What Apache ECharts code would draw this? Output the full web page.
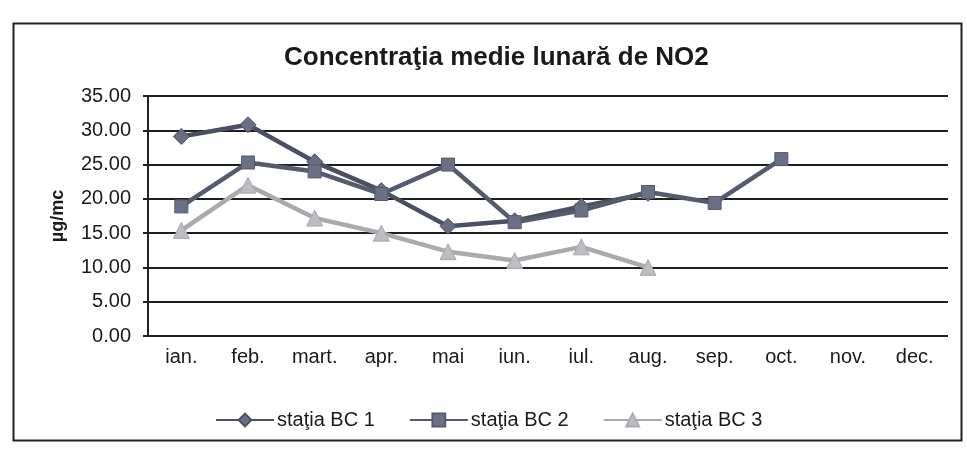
<!DOCTYPE html>
<html>
<head>
<meta charset="utf-8">
<script src="https://cdn.jsdelivr.net/npm/echarts@6/dist/echarts.min.js"></script>
<style>
html,body{margin:0;padding:0;background:#fff;}
#c{width:967px;height:452px;}
</style>
</head>
<body>
<div id="c"></div>
<script>
const titleText = 'Concentraţia medie lunară de NO2';
const yAxisName = 'µg/mc';
const months = ['ian.','feb.','mart.','apr.','mai','iun.','iul.','aug.','sep.','oct.','nov.','dec.'];
const seriesNames = ['staţia BC 1','staţia BC 2','staţia BC 3'];
const bc1 = [29.1, 30.8, 25.4, 21.2, 16.0, 16.8, 18.9, 20.8, null, null, null, null];
const bc2 = [18.9, 25.3, 24.0, 20.7, 25.0, 16.6, 18.3, 21.0, 19.4, 25.8, null, null];
const bc3 = [15.4, 22.0, 17.2, 15.0, 12.3, 11.0, 13.0, 10.0, null, null, null, null];
const yTicks = {min: 0, max: 35, interval: 5};

const chart = echarts.init(document.getElementById('c'));
const font = 'Liberation Sans, Arial, sans-serif';
function mk(name, data, color, mfill, symbol, size){
  return {
    name, type:'line', data, symbol, symbolSize:size,
    connectNulls:false,
    lineStyle:{color, width:4.5},
    itemStyle:{color:mfill, borderColor:color, borderWidth:1},
    emphasis:{disabled:true}
  };
}
chart.setOption({
  animation:false,
  backgroundColor:'#fff',
  graphic:[{
    type:'rect', left:11, top:21, shape:{width:948, height:417},
    style:{fill:'none', stroke:'#222', lineWidth:2}, silent:true
  }],
  title:{
    text:titleText, left:279, top:40,
    textStyle:{fontFamily:font, fontSize:26, fontWeight:'bold', color:'#1a1a1a'}
  },
  legend:{
    left:210, top:405, itemWidth:58, itemHeight:16, itemGap:34,
    textStyle:{fontFamily:font, fontSize:20, color:'#1a1a1a', padding:[0,0,0,-2]},
    data:seriesNames
  },
  grid:{left:148, right:19, top:96, bottom:116, containLabel:false},
  xAxis:{
    type:'category', data:months, boundaryGap:true,
    axisLine:{show:false}, axisTick:{show:false},
    axisLabel:{fontFamily:font, fontSize:20, color:'#1a1a1a', margin:11}
  },
  yAxis:{
    type:'value', min:yTicks.min, max:yTicks.max, interval:yTicks.interval,
    name:yAxisName, nameLocation:'middle', nameGap:81, nameRotate:90,
    nameTextStyle:{fontFamily:font, fontSize:18, fontWeight:'bold', color:'#1a1a1a'},
    axisLine:{show:true, lineStyle:{color:'#222', width:2}},
    axisTick:{show:true, length:5, lineStyle:{color:'#222', width:2}},
    axisLabel:{fontFamily:font, fontSize:20, color:'#1a1a1a', margin:17,
      formatter:v=>v.toFixed(2)},
    splitLine:{show:true, lineStyle:{color:'#1e1e1e', width:2}}
  },
  series:[
    mk(seriesNames[0], bc1, '#4b4f62', '#6a6e82', 'diamond', 16),
    mk(seriesNames[1], bc2, '#555a6d', '#6c7086', 'rect', 13),
    mk(seriesNames[2], bc3, '#a9a9ae', '#bdbdc1', 'triangle', 16)
  ]
});
</script>
</body>
</html>
